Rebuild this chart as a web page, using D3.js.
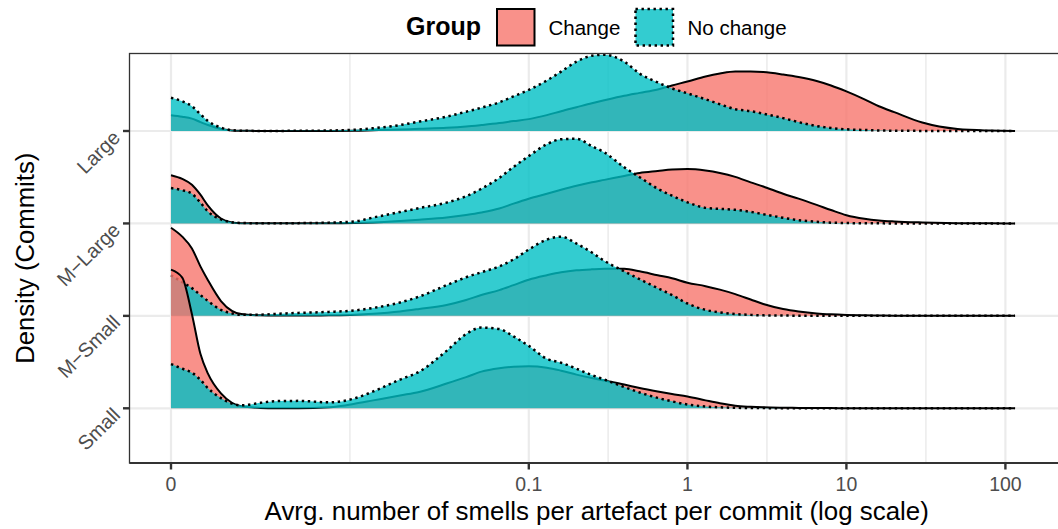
<!DOCTYPE html>
<html>
<head>
<meta charset="utf-8">
<script src="https://cdn.jsdelivr.net/npm/d3@7"></script>
<style>
  body { margin: 0; background: #fff; }
  svg { display: block; }
  text { font-family: "Liberation Sans", Arial, sans-serif; }
</style>
</head>
<body>
<svg id="chart" width="1058" height="529"></svg>
<script>
// Project size categories (top to bottom) and their displayed labels
const sizeGroups = ["Large", "M-Large", "M-Small", "Small"];
const sizeLabels = ["Large", "M\u2212Large", "M\u2212Small", "Small"];
const changeGroups = ["Change", "No change"];

// Axis breaks on the pseudo-log x axis
const xTicks = [0, 0.1, 1, 10, 100];
const xTickLabels = ["0", "0.1", "1", "10", "100"];

// Evaluation points of the density estimates (smells per artefact per commit)
const smellsGrid = [0, 0.0001, 0.0002, 0.0003, 0.0004, 0.0006, 0.0008, 0.001, 0.0015, 0.002,
  0.003, 0.005, 0.0075, 0.01, 0.015, 0.02, 0.03, 0.04, 0.05, 0.065,
  0.08, 0.1, 0.13, 0.16, 0.2, 0.25, 0.3, 0.4, 0.5, 0.65,
  0.8, 1, 1.3, 1.6, 2, 2.5, 3, 4, 5, 6.5,
  8, 10, 13, 16, 20, 30, 50, 80, 115];

// Density of commits per group, one value per grid point
const densLargeChange = [0.16, 0.145, 0.125, 0.09, 0.06, 0.02, 0.006, 0.002, 0.001, 0.001,
  0.001, 0.001, 0.003, 0.008, 0.015, 0.022, 0.032, 0.045, 0.06, 0.08,
  0.10, 0.12, 0.16, 0.20, 0.24, 0.28, 0.31, 0.355, 0.385, 0.42,
  0.46, 0.50, 0.55, 0.58, 0.60, 0.60, 0.595, 0.57, 0.545, 0.505,
  0.46, 0.40, 0.32, 0.25, 0.19, 0.085, 0.02, 0.005, 0.001];
const densLargeNoChange = [0.335, 0.30, 0.25, 0.17, 0.10, 0.035, 0.008, 0.003, 0.001, 0.001,
  0.002, 0.005, 0.012, 0.028, 0.06, 0.095, 0.145, 0.195, 0.235, 0.29,
  0.35, 0.415, 0.51, 0.60, 0.70, 0.76, 0.77, 0.70, 0.58, 0.49,
  0.43, 0.38, 0.32, 0.27, 0.22, 0.20, 0.175, 0.13, 0.09, 0.05,
  0.03, 0.017, 0.01, 0.005, 0.003, 0.001, 0, 0, 0];
const densMLargeChange = [0.487, 0.45, 0.39, 0.29, 0.18, 0.05, 0.01, 0.003, 0.001, 0.001,
  0.001, 0.001, 0.004, 0.01, 0.025, 0.038, 0.06, 0.085, 0.11, 0.15,
  0.20, 0.25, 0.30, 0.34, 0.38, 0.415, 0.44, 0.48, 0.51, 0.53,
  0.545, 0.55, 0.535, 0.51, 0.47, 0.415, 0.373, 0.30, 0.25, 0.187,
  0.135, 0.083, 0.047, 0.03, 0.02, 0.01, 0.003, 0.001, 0];
const densMLargeNoChange = [0.357, 0.335, 0.30, 0.21, 0.12, 0.04, 0.012, 0.004, 0.002, 0.002,
  0.003, 0.008, 0.02, 0.06, 0.115, 0.155, 0.21, 0.275, 0.35, 0.46,
  0.57, 0.68, 0.80, 0.85, 0.855, 0.78, 0.717, 0.567, 0.467, 0.35,
  0.28, 0.213, 0.157, 0.147, 0.137, 0.117, 0.093, 0.057, 0.033, 0.017,
  0.008, 0.004, 0.002, 0.001, 0, 0, 0, 0, 0];
const densMSmallChange = [0.89, 0.80, 0.68, 0.50, 0.36, 0.15, 0.05, 0.018, 0.005, 0.003,
  0.003, 0.006, 0.012, 0.022, 0.045, 0.07, 0.11, 0.16, 0.21, 0.26,
  0.31, 0.365, 0.41, 0.44, 0.46, 0.47, 0.475, 0.475, 0.45, 0.41,
  0.38, 0.335, 0.30, 0.265, 0.22, 0.165, 0.12, 0.07, 0.045, 0.025,
  0.016, 0.01, 0.006, 0.004, 0.002, 0.001, 0, 0, 0];
const densMSmallNoChange = [0.41, 0.34, 0.28, 0.21, 0.15, 0.06, 0.025, 0.01, 0.012, 0.02,
  0.03, 0.04, 0.055, 0.08, 0.135, 0.195, 0.31, 0.39, 0.44, 0.50,
  0.57, 0.67, 0.77, 0.80, 0.73, 0.64, 0.555, 0.45, 0.37, 0.28,
  0.21, 0.125, 0.06, 0.035, 0.018, 0.01, 0.005, 0.003, 0.002, 0.001,
  0, 0, 0, 0, 0, 0, 0, 0, 0];
const densSmallChange = [1.40, 1.32, 0.95, 0.55, 0.35, 0.15, 0.056, 0.02, 0.004, 0,
  0, 0.01, 0.045, 0.08, 0.13, 0.165, 0.25, 0.315, 0.37, 0.405,
  0.42, 0.425, 0.41, 0.38, 0.34, 0.305, 0.28, 0.24, 0.205, 0.17,
  0.145, 0.12, 0.08, 0.05, 0.025, 0.015, 0.01, 0.006, 0.004, 0.003,
  0.002, 0.0015, 0.001, 0.001, 0.001, 0.001, 0, 0, 0];
const densSmallNoChange = [0.447, 0.40, 0.36, 0.287, 0.203, 0.103, 0.047, 0.03, 0.055, 0.072,
  0.075, 0.06, 0.10, 0.17, 0.29, 0.37, 0.58, 0.75, 0.815, 0.80,
  0.727, 0.63, 0.50, 0.46, 0.40, 0.335, 0.29, 0.215, 0.16, 0.105,
  0.07, 0.038, 0.018, 0.01, 0.005, 0.003, 0.002, 0.001, 0, 0,
  0, 0, 0, 0, 0, 0, 0, 0, 0];

const densities = {
  "Large":   { "Change": densLargeChange,  "No change": densLargeNoChange },
  "M-Large": { "Change": densMLargeChange, "No change": densMLargeNoChange },
  "M-Small": { "Change": densMSmallChange, "No change": densMSmallNoChange },
  "Small":   { "Change": densSmallChange,  "No change": densSmallNoChange }
};

// ---- layout -------------------------------------------------------------
const svg = d3.select("#chart");
const panel = { left: 129.5, top: 53.5, right: 1062, bottom: 463 };

const fillColor = d3.scaleOrdinal().domain(changeGroups).range(["#F8766D", "#00BFC4"]);
const dashFor = g => g === "Change" ? null : "2.4,3.6";
const strokeFor = g => g === "Change" ? 2 : 2.5;

// pseudo-log x scale (symlog keeps zero on the axis)
const x = d3.scaleSymlog().constant(0.000565).domain([0, 100]).range([171, 1005.4]);
const y = d3.scalePoint().domain(sizeGroups).range([131, 408.3]);
const rowStep = y.step();
const allDens = Object.values(densities).flatMap(o => Object.values(o).flat());
const h = d3.scaleLinear().domain([0, d3.max(allDens)]).range([0, 1.5 * rowStep]);

svg.append("rect").attr("width", 1058).attr("height", 529).attr("fill", "#fff");

svg.append("clipPath").attr("id", "panelClip")
  .append("rect")
  .attr("x", panel.left).attr("y", panel.top)
  .attr("width", panel.right - panel.left).attr("height", panel.bottom - panel.top);

// grid
const grid = svg.append("g");
const majorX = xTicks.map(x);
const minorX = d3.pairs(majorX).map(([a, b]) => (a + b) / 2);
grid.selectAll("line.minor").data(minorX).join("line")
  .attr("x1", d => d).attr("x2", d => d)
  .attr("y1", panel.top).attr("y2", panel.bottom)
  .attr("stroke", "#EBEBEB").attr("stroke-width", 1.5);
grid.selectAll("line.majx").data(majorX).join("line")
  .attr("x1", d => d).attr("x2", d => d)
  .attr("y1", panel.top).attr("y2", panel.bottom)
  .attr("stroke", "#EBEBEB").attr("stroke-width", 2.2);
grid.selectAll("line.majy").data(sizeGroups).join("line")
  .attr("x1", panel.left).attr("x2", panel.right)
  .attr("y1", d => y(d)).attr("y2", d => y(d))
  .attr("stroke", "#EBEBEB").attr("stroke-width", 2.2);

// ridges: each row draws "Change" first, then "No change"; lower rows on top
const ridges = svg.append("g").attr("clip-path", "url(#panelClip)");
sizeGroups.forEach(sg => {
  const base = y(sg);
  changeGroups.forEach(cg => {
    const vals = densities[sg][cg];
    const area = d3.area()
      .x((d, i) => x(smellsGrid[i]))
      .y0(base)
      .y1(d => base - h(d))
      .curve(d3.curveMonotoneX);
    const line = d3.line()
      .x((d, i) => x(smellsGrid[i]))
      .y(d => base - h(d))
      .curve(d3.curveMonotoneX);
    ridges.append("path").datum(vals)
      .attr("d", area)
      .attr("fill", fillColor(cg)).attr("fill-opacity", 0.8);
    ridges.append("path").datum(vals)
      .attr("d", line)
      .attr("fill", "none").attr("stroke", "#000")
      .attr("stroke-width", strokeFor(cg))
      .attr("stroke-dasharray", dashFor(cg));
  });
});

// panel border and axes
svg.append("rect")
  .attr("x", panel.left).attr("y", panel.top)
  .attr("width", panel.right - panel.left).attr("height", panel.bottom - panel.top)
  .attr("fill", "none").attr("stroke", "#333").attr("stroke-width", 1.3);
svg.append("line")
  .attr("x1", panel.left).attr("x2", panel.right)
  .attr("y1", panel.bottom).attr("y2", panel.bottom)
  .attr("stroke", "#333").attr("stroke-width", 2.2);

const xAxis = svg.append("g");
xAxis.selectAll("line").data(xTicks).join("line")
  .attr("x1", d => x(d)).attr("x2", d => x(d))
  .attr("y1", panel.bottom).attr("y2", panel.bottom + 6.5)
  .attr("stroke", "#333").attr("stroke-width", 2.4);
xAxis.selectAll("text").data(xTicks).join("text")
  .attr("x", d => x(d)).attr("y", 491)
  .attr("text-anchor", "middle")
  .attr("font-size", 19.5).attr("fill", "#4D4D4D")
  .text((d, i) => xTickLabels[i]);

const yAxis = svg.append("g");
yAxis.selectAll("line").data(sizeGroups).join("line")
  .attr("x1", panel.left - 6.5).attr("x2", panel.left)
  .attr("y1", d => y(d)).attr("y2", d => y(d))
  .attr("stroke", "#333").attr("stroke-width", 2.4);
yAxis.selectAll("text").data(sizeGroups).join("text")
  .attr("transform", d => `translate(${panel.left - 13},${y(d) + 3}) rotate(-45)`)
  .attr("text-anchor", "end").attr("dy", "0.35em")
  .attr("font-size", 20).attr("fill", "#4D4D4D")
  .text((d, i) => sizeLabels[i]);

// axis titles
svg.append("text")
  .attr("x", (panel.left + 1058) / 2 + 3).attr("y", 520)
  .attr("text-anchor", "middle").attr("font-size", 25.9).attr("fill", "#000")
  .text("Avrg. number of smells per artefact per commit (log scale)");
svg.append("text")
  .attr("transform", `translate(33.5,${(panel.top + panel.bottom) / 2}) rotate(-90)`)
  .attr("text-anchor", "middle").attr("font-size", 25.7).attr("fill", "#000")
  .text("Density (Commits)");

// legend
const legend = svg.append("g");
legend.append("text")
  .attr("x", 406).attr("y", 35)
  .attr("font-size", 25).attr("font-weight", "bold").attr("fill", "#000")
  .text("Group");
const keyX = [497, 635.5];
const labelX = [548.5, 687.5];
changeGroups.forEach((cg, i) => {
  legend.append("rect")
    .attr("x", keyX[i]).attr("y", 9)
    .attr("width", 37.5).attr("height", 36.5)
    .attr("fill", fillColor(cg)).attr("fill-opacity", 0.8)
    .attr("stroke", "#000").attr("stroke-width", strokeFor(cg))
    .attr("stroke-dasharray", dashFor(cg));
  legend.append("text")
    .attr("x", labelX[i]).attr("y", 34.5)
    .attr("font-size", 20.5).attr("fill", "#000")
    .text(cg);
});
</script>
</body>
</html>
